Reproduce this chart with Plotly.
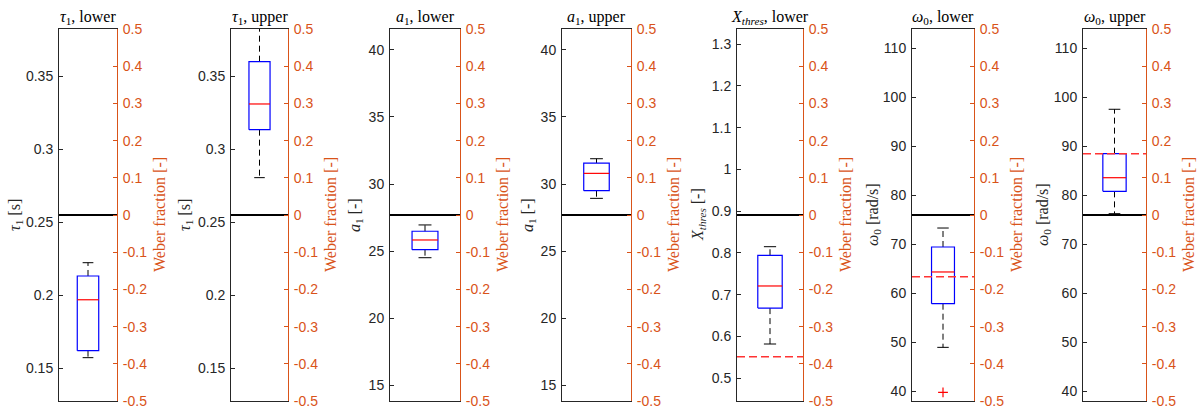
import plotly.graph_objects as go

# Parameter panels: label, unit label, nominal value (Weber fraction 0)
panel_titles = [
    "<i>τ</i><sub>1</sub>, lower",
    "<i>τ</i><sub>1</sub>, upper",
    "<i>a</i><sub>1</sub>, lower",
    "<i>a</i><sub>1</sub>, upper",
    "<i>X</i><sub><i>thres</i></sub>, lower",
    "<i>ω</i><sub>0</sub>, lower",
    "<i>ω</i><sub>0</sub>, upper",
]
axis_labels = [
    "<i>τ</i><sub>1</sub> [s]",
    "<i>τ</i><sub>1</sub> [s]",
    "<i>a</i><sub>1</sub> [-]",
    "<i>a</i><sub>1</sub> [-]",
    "<i>X</i><sub><i>thres</i></sub> [-]",
    "<i>ω</i><sub>0</sub> [rad/s]",
    "<i>ω</i><sub>0</sub> [rad/s]",
]
weber_label = "Weber fraction [-]"
nominal_values = [0.255, 0.255, 27.7, 27.7, 0.891, 76.0, 76.0]

# Box statistics per panel
lower_whisker = [0.1572, 0.2806, 24.52, 28.94, 0.582, 48.96, 76.27]
quartile_1 = [0.162, 0.3135, 25.12, 29.51, 0.668, 57.88, 80.83]
median = [0.1969, 0.3311, 25.84, 30.80, 0.721, 64.36, 83.62]
quartile_3 = [0.2132, 0.3601, 26.49, 31.57, 0.7945, 69.46, 88.53]
upper_whisker = [0.2223, 0.400, 26.96, 31.89, 0.8151, 73.34, 97.6]
outliers = [[], [], [], [], [], [39.77], []]
threshold = [None, None, None, None, 0.5516, 63.4, 88.5]

# Tick values / labels for the parameter axes
tau_ticks = [0.15, 0.2, 0.25, 0.3, 0.35]
tau_labels = ["0.15", "0.2", "0.25", "0.3", "0.35"]
a_ticks = [15, 20, 25, 30, 35, 40]
a_labels = ["15", "20", "25", "30", "35", "40"]
x_ticks = [0.5, 0.6, 0.7, 0.8, 0.9, 1.0, 1.1, 1.2, 1.3]
x_labels = ["0.5", "0.6", "0.7", "0.8", "0.9", "1", "1.1", "1.2", "1.3"]
w_ticks = [40, 50, 60, 70, 80, 90, 100, 110]
w_labels = ["40", "50", "60", "70", "80", "90", "100", "110"]
left_ticks = [tau_ticks, tau_ticks, a_ticks, a_ticks, x_ticks, w_ticks, w_ticks]
left_labels = [tau_labels, tau_labels, a_labels, a_labels, x_labels, w_labels, w_labels]

# Weber fraction axis
weber_ticks = [-0.5, -0.4, -0.3, -0.2, -0.1, 0.0, 0.1, 0.2, 0.3, 0.4, 0.5]
weber_labels = ["-0.5", "-0.4", "-0.3", "-0.2", "-0.1", "0", "0.1", "0.2", "0.3", "0.4", "0.5"]
weber_range = [-0.5, 0.5]

# Layout geometry (pixels)
W, H = 1198, 411
panel_left = [59, 231, 390, 562, 737, 912, 1083]
panel_right = [117, 288, 460, 631, 803, 974, 1146]
left_title_gap = [44, 46, 35, 34, 39, 39, 40]
right_title_gap = 42
plot_top, plot_bottom = 29, 401

DARK = "#262626"
ORANGE = "#D95319"
TICK_FONT = dict(family="Liberation Sans, Arial, sans-serif", size=14)
SERIF = "Liberation Serif, Times New Roman, serif"

BOX_HALF = 0.185
CENTER = 0.5

fig = go.Figure()
layout = dict(
    width=W, height=H,
    margin=dict(l=0, r=0, t=0, b=0, autoexpand=False),
    paper_bgcolor="white", plot_bgcolor="white",
    showlegend=False,
    annotations=[],
)

mid_y = 1 - (plot_top + plot_bottom) / 2 / H

for i in range(7):
    n = i + 1
    xname = "x" if n == 1 else f"x{n}"
    yname = "y" if n == 1 else f"y{n}"
    yr = f"y{n + 7}"
    ref = nominal_values[i]
    left_range = [ref * (1 + weber_range[0]), ref * (1 + weber_range[1])]

    # box
    q1, q3, med = quartile_1[i], quartile_3[i], median[i]
    lw, uw = lower_whisker[i], upper_whisker[i]
    dash = "6px,4px"
    fig.add_trace(go.Scatter(x=[CENTER, CENTER], y=[q3, uw], mode="lines",
                             line=dict(color="black", width=1, dash=dash),
                             xaxis=xname, yaxis=yname, hoverinfo="skip"))
    fig.add_trace(go.Scatter(x=[CENTER, CENTER], y=[q1, lw], mode="lines",
                             line=dict(color="black", width=1, dash=dash),
                             xaxis=xname, yaxis=yname, hoverinfo="skip"))
    for cap in (lw, uw):
        fig.add_trace(go.Scatter(x=[CENTER - BOX_HALF / 2, CENTER + BOX_HALF / 2], y=[cap, cap],
                                 mode="lines", line=dict(color="black", width=1),
                                 xaxis=xname, yaxis=yname, hoverinfo="skip"))
    fig.add_trace(go.Scatter(
        x=[CENTER - BOX_HALF, CENTER + BOX_HALF, CENTER + BOX_HALF, CENTER - BOX_HALF, CENTER - BOX_HALF],
        y=[q1, q1, q3, q3, q1], mode="lines", line=dict(color="#0000FF", width=1.2),
        xaxis=xname, yaxis=yname, hoverinfo="skip"))
    fig.add_trace(go.Scatter(x=[CENTER - BOX_HALF, CENTER + BOX_HALF], y=[med, med], mode="lines",
                             line=dict(color="#FF0000", width=1.2),
                             xaxis=xname, yaxis=yname, hoverinfo="skip"))
    if outliers[i]:
        fig.add_trace(go.Scatter(x=[CENTER] * len(outliers[i]), y=outliers[i], mode="markers",
                                 marker=dict(symbol="cross-thin", size=7, color="red",
                                             line=dict(color="red", width=1.2)),
                                 xaxis=xname, yaxis=yname, hoverinfo="skip"))
    if threshold[i] is not None:
        fig.add_trace(go.Scatter(x=[0, 1], y=[threshold[i], threshold[i]], mode="lines",
                                 line=dict(color="#FF3333", width=1.5, dash="8px,4px"),
                                 xaxis=xname, yaxis=yname, hoverinfo="skip"))
    # nominal value (Weber fraction zero)
    fig.add_trace(go.Scatter(x=[0, 1], y=[0, 0], mode="lines",
                             line=dict(color="black", width=2.2),
                             xaxis=xname, yaxis=yr, hoverinfo="skip"))

    dom_x = [panel_left[i] / W, panel_right[i] / W]
    dom_y = [1 - plot_bottom / H, 1 - plot_top / H]

    layout["xaxis" if n == 1 else f"xaxis{n}"] = dict(
        domain=dom_x, range=[0, 1], anchor=yname, automargin=False,
        showline=True, mirror=True, linecolor=DARK, linewidth=1,
        showticklabels=False, ticks="", showgrid=False, zeroline=False, fixedrange=True,
    )
    layout["yaxis" if n == 1 else f"yaxis{n}"] = dict(
        domain=dom_y, range=left_range, anchor=xname, side="left", automargin=False,
        tickmode="array", tickvals=left_ticks[i], ticktext=left_labels[i],
        ticks="inside", ticklen=4, tickcolor=DARK, tickfont=dict(color=DARK, **TICK_FONT),
        ticklabelstandoff=2,
        showline=True, linecolor=DARK, linewidth=1,
        showgrid=False, zeroline=False,
    )
    layout[f"yaxis{n + 7}"] = dict(
        overlaying=yname, anchor=xname, side="right", range=weber_range, automargin=False,
        tickmode="array", tickvals=weber_ticks, ticktext=weber_labels,
        ticks="inside", ticklen=4, tickcolor=ORANGE, tickfont=dict(color=ORANGE, **TICK_FONT),
        ticklabelstandoff=2,
        showline=True, linecolor=ORANGE, linewidth=1,
        showgrid=False, zeroline=False,
    )
    # panel title
    layout["annotations"].append(dict(
        text=panel_titles[i], xref="paper", yref="paper",
        x=(dom_x[0] + dom_x[1]) / 2, y=dom_y[1], xanchor="center", yanchor="bottom",
        yshift=0, showarrow=False, font=dict(family=SERIF, size=16, color="black"),
    ))
    # left axis title
    layout["annotations"].append(dict(
        text=axis_labels[i], xref="paper", yref="paper", textangle=-90,
        x=dom_x[0], y=mid_y, xshift=-left_title_gap[i], xanchor="center", yanchor="middle",
        showarrow=False, font=dict(family=SERIF, size=16, color=DARK),
    ))
    # right axis title
    layout["annotations"].append(dict(
        text=weber_label, xref="paper", yref="paper", textangle=-90,
        x=dom_x[1], y=mid_y, xshift=right_title_gap, xanchor="center", yanchor="middle",
        showarrow=False, font=dict(family=SERIF, size=16, color=ORANGE),
    ))

fig.update_layout(**layout)
fig.write_html("out.html")
